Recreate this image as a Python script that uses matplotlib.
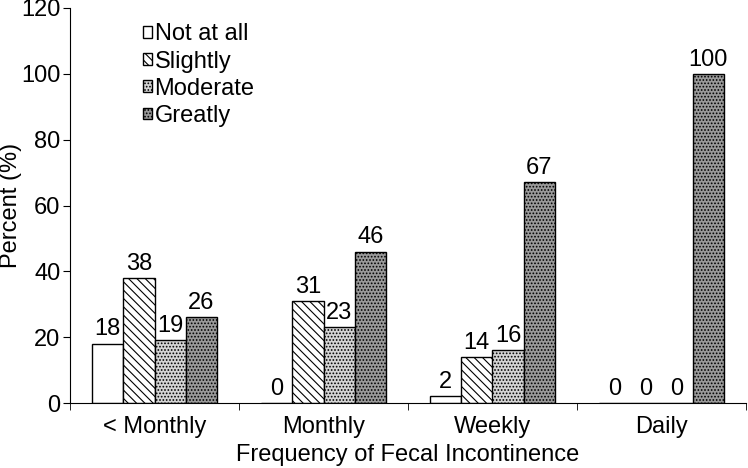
import numpy as np
import matplotlib
matplotlib.use("Agg")
import matplotlib.pyplot as plt
from matplotlib.ticker import FixedLocator

categories = ["< Monthly", "Monthly", "Weekly", "Daily"]
series = ["Not at all", "Slightly", "Moderate", "Greatly"]
not_at_all = [18, 0, 2, 0]
slightly = [38, 31, 14, 0]
moderate = [19, 23, 16, 0]
greatly = [26, 46, 67, 100]

plt.rcParams["font.family"] = ["Liberation Sans", "DejaVu Sans"]
plt.rcParams["hatch.linewidth"] = 0.8

fig = plt.figure(figsize=(7.48, 4.68), dpi=100)
ax = fig.add_axes([70 / 748, 1 - 403 / 468, 676 / 748, 395 / 468])

x = np.arange(len(categories))
w = 0.185
styles = [
    dict(facecolor="white", hatch=None),
    dict(facecolor="white", hatch="\\\\\\\\"),
    dict(facecolor="#d4d4d4", hatch="....."),
    dict(facecolor="#9a9a9a", hatch="....."),
]
data = [not_at_all, slightly, moderate, greatly]

for i, (vals, name, st) in enumerate(zip(data, series, styles)):
    pos = x + (i - 1.5) * w
    bars = ax.bar(pos, vals, width=w, label=name, edgecolor="black",
                  linewidth=1.0, **st)
    for b, v in zip(bars, vals):
        ax.text(b.get_x() + b.get_width() / 2, v + 1.0, str(v),
                ha="center", va="bottom", fontsize=17)

ax.set_xlim(-0.5, 3.5)
ax.set_ylim(0, 120)
ax.set_yticks(range(0, 121, 20))
ax.set_xticks(x)
ax.set_xticklabels(categories, fontsize=17)
ax.xaxis.set_minor_locator(FixedLocator(np.arange(-0.5, 4, 1)))
ax.tick_params(axis="x", which="major", length=0, pad=9)
ax.tick_params(axis="x", which="minor", length=5, direction="out")
ax.tick_params(axis="y", labelsize=17, length=5, direction="out", pad=2)
ax.spines["top"].set_visible(False)
ax.spines["right"].set_visible(False)
ax.set_ylabel("Percent (%)", fontsize=17)
ax.yaxis.set_label_coords(-48 / 676, 0.5)
ax.set_xlabel("Frequency of Fecal Incontinence", fontsize=17, labelpad=5)

ax.legend(loc="upper left", bbox_to_anchor=(0.085, 1.0), frameon=False,
          fontsize=17, handlelength=0.4, handleheight=0.4,
          handletextpad=0.1, labelspacing=0.22, borderaxespad=0.25)

plt.savefig("out.png", dpi=100)
plt.close()
